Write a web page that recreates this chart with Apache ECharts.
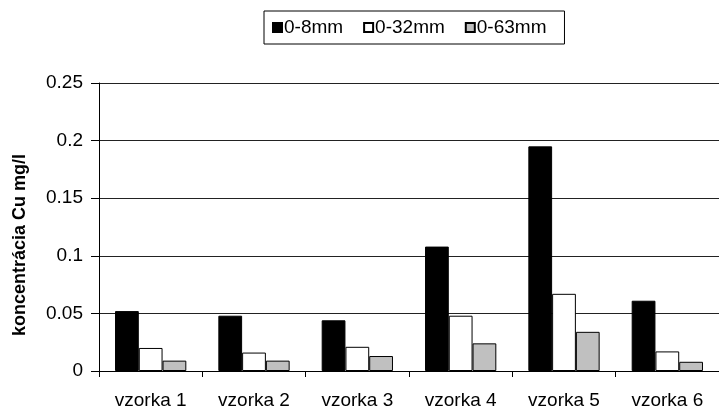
<!DOCTYPE html>
<html>
<head>
<meta charset="utf-8">
<script src="https://cdn.jsdelivr.net/npm/echarts@6/dist/echarts.min.js"></script>
<style>
  html, body { margin: 0; padding: 0; background: #fff; }
  #chart { width: 719px; height: 410px; }
</style>
</head>
<body>
<div id="chart"></div>
<script>
const categories = ['vzorka 1', 'vzorka 2', 'vzorka 3', 'vzorka 4', 'vzorka 5', 'vzorka 6'];
const fine = [0.052, 0.048, 0.044, 0.108, 0.195, 0.061];   // 0-8mm
const medium = [0.020, 0.016, 0.021, 0.048, 0.067, 0.017]; // 0-32mm
const coarse = [0.009, 0.009, 0.013, 0.024, 0.034, 0.008]; // 0-63mm
const yTicks = [0, 0.05, 0.1, 0.15, 0.2, 0.25];

const font = 'Liberation Sans, Arial, sans-serif';

function bar(name, data, color) {
  return {
    name: name,
    type: 'bar',
    data: data,
    barGap: '0%',
    barCategoryGap: '31%',
    itemStyle: { color: color, borderColor: '#000', borderWidth: 1 }
  };
}

const chart = echarts.init(document.getElementById('chart'));
chart.setOption({
  animation: false,
  textStyle: { fontFamily: font },
  legend: {
    top: 11,
    left: 264,
    icon: 'rect',
    itemWidth: 9,
    itemHeight: 9,
    itemGap: 20,
    padding: [7, 18, 7, 8],
    borderColor: '#000',
    borderWidth: 1,
    textStyle: { color: '#000', fontSize: 19, fontFamily: font, padding: [0, 0, 0, -3] },
    data: ['0-8mm', '0-32mm', '0-63mm']
  },
  grid: { left: 99, right: -8, top: 83, bottom: 37 },
  xAxis: {
    type: 'category',
    data: categories,
    axisLine: { lineStyle: { color: '#000', width: 1 } },
    axisTick: { show: true, length: 6, lineStyle: { color: '#000' } },
    axisLabel: { color: '#000', fontSize: 19, fontFamily: font, margin: 20 }
  },
  yAxis: {
    type: 'value',
    min: yTicks[0],
    max: yTicks[yTicks.length - 1],
    interval: 0.05,
    name: 'koncentrácia Cu mg/l',
    nameLocation: 'middle',
    nameGap: 70,
    nameTextStyle: { color: '#000', fontSize: 18, fontWeight: 'bold', fontFamily: font, padding: [0, 0, 0, -36] },
    axisLine: { show: true, lineStyle: { color: '#000', width: 1 } },
    axisTick: { show: true, length: 8, lineStyle: { color: '#000' } },
    axisLabel: { color: '#000', fontSize: 19, fontFamily: font, margin: 16 },
    splitLine: { show: true, lineStyle: { color: '#222', width: 1 } }
  },
  series: [
    bar('0-8mm', fine, '#000000'),
    bar('0-32mm', medium, '#ffffff'),
    bar('0-63mm', coarse, '#c0c0c0')
  ]
});
</script>
</body>
</html>
